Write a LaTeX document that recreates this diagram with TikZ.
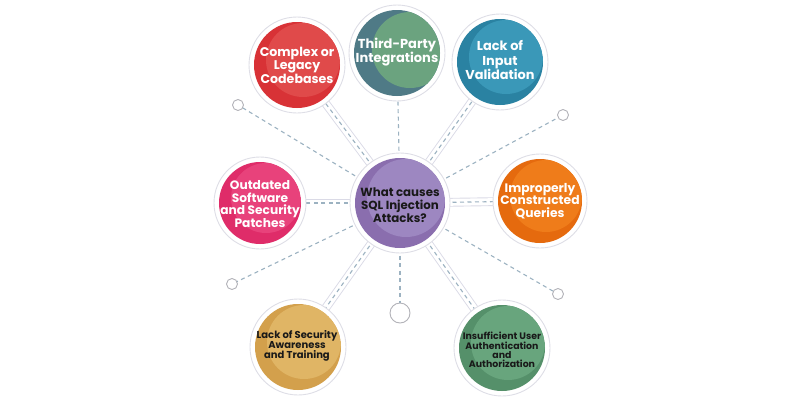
\documentclass[tikz,border=0pt]{standalone}
\usepackage{fontspec}
\setmainfont{Poppins}
\usetikzlibrary{calc}
\definecolor{dashc}{HTML}{9CB2C1}
\definecolor{railc}{HTML}{DADAE6}
\definecolor{ringc}{HTML}{DEDEE6}
\definecolor{cred}{HTML}{D83236}\definecolor{credL}{HTML}{E04A4A}
\definecolor{cthird}{HTML}{4F7A86}\definecolor{cthirdL}{HTML}{6BA37F}
\definecolor{cinput}{HTML}{2A82A2}\definecolor{cinputL}{HTML}{3A98B8}
\definecolor{cout}{HTML}{DF2C69}\definecolor{coutL}{HTML}{E8427B}
\definecolor{cpur}{HTML}{8A6EAE}\definecolor{cpurL}{HTML}{9D87C1}
\definecolor{corg}{HTML}{E56A0E}\definecolor{corgL}{HTML}{EF7C1A}
\definecolor{cgold}{HTML}{D3A04C}\definecolor{cgoldL}{HTML}{E0B565}
\definecolor{cgrn}{HTML}{55906A}\definecolor{cgrnL}{HTML}{68A57D}
\tikzset{
  ring/.style={circle, fill=white, draw=ringc, line width=0.9pt, minimum size=#1, inner sep=0pt},
  dot/.style={circle, fill=white, draw=ringc!80!black, line width=0.9pt, minimum size=#1, inner sep=0pt},
  rail/.style={draw=railc, double=white, double distance=7pt, line width=0.9pt},
  dline/.style={draw=dashc, line width=1.1pt, dash pattern=on 4pt off 3.5pt},
  txt/.style={align=center, font=\bfseries, inner sep=0pt}
}
\newcommand\bubble[7]{% name, base, light, r, hx, hy, hr
  \fill[#2] (#1) circle (#4pt);
  \begin{scope}
    \clip (#1) circle (#4pt);
    \fill[#3] ($(#1)+(#5,#6)$) circle (#7pt);
  \end{scope}
}
\begin{document}
\begin{tikzpicture}[x=1pt,y=-1pt]
\useasboundingbox (0,0) rectangle (800,400);
% coordinates
\coordinate (pc) at (400,203);
\coordinate (p1) at (297,65);
\coordinate (p2) at (397,53);
\coordinate (p3) at (500,62);
\coordinate (p4) at (260,203);
\coordinate (p5) at (540,201);
\coordinate (p6) at (298,347);
\coordinate (p7) at (502,348);
\coordinate (q1) at (238,105);
\coordinate (q2) at (563,115);
\coordinate (q3) at (232,284);
\coordinate (q4) at (558,294);
\coordinate (q5) at (400,313);
% rails
\foreach \p in {p1,p3,p4,p5,p6,p7} {\draw[rail] (pc) -- (\p);}
\foreach \p in {p1,p2,p3,p4,p5,p6,p7} {\draw[dline] (pc) -- (\p);}
\foreach \p in {q1,q2,q3,q4,q5} {\draw[dline] (pc) -- (\p);}
% small dots
\node[dot=11pt] (d1) at (q1) {};
\node[dot=11pt] (d2) at (q2) {};
\node[dot=11pt] (d3) at (q3) {};
\node[dot=11pt] (d4) at (q4) {};
\node[dot=20pt] (d5) at (q5) {};
% rings
\node[ring=100pt] (nc) at (pc) {};
\node[ring=96pt] (n1) at (p1) {};
\node[ring=96pt] (n2) at (p2) {};
\node[ring=96pt] (n3) at (p3) {};
\node[ring=92pt] (n4) at (p4) {};
\node[ring=94pt] (n5) at (p5) {};
\node[ring=96pt] (n6) at (p6) {};
\node[ring=96pt] (n7) at (p7) {};
% fills
\bubble{nc}{cpur}{cpurL}{45}{6}{-5}{39}
\bubble{n1}{cred}{credL}{43}{6}{-5}{37}
\bubble{n2}{cthird}{cthirdL}{43}{13}{-3}{38}
\bubble{n3}{cinput}{cinputL}{43}{6}{-5}{37}
\bubble{n4}{cout}{coutL}{41}{6}{-5}{35}
\bubble{n5}{corg}{corgL}{42}{6}{-5}{36}
\bubble{n6}{cgold}{cgoldL}{43}{6}{-5}{37}
\bubble{n7}{cgrn}{cgrnL}{43}{6}{-5}{37}
% texts
\node[txt, text=black!90, font=\bfseries\fontsize{11.8}{13.3}\selectfont] (tc) at (400,205) {What causes\\SQL Injection\\ Attacks?};
\node[txt, text=white, font=\bfseries\fontsize{12.6}{12}\selectfont] (t1) at (297,65) {Complex or\\Legacy\\Codebases};
\node[txt, text=white, font=\bfseries\fontsize{13}{14}\selectfont] (t2) at (397,52) {Third-Party\\Integrations};
\node[txt, text=white, font=\bfseries\fontsize{12.9}{14.5}\selectfont] (t3) at (500,60) {Lack of\\Input\\Validation};
\node[txt, text=white, font=\bfseries\fontsize{12.2}{12.7}\selectfont] (t4) at (260,204) {Outdated\\Software\\and Security\\Patches};
\node[txt, text=white, font=\bfseries\fontsize{12.3}{12.8}\selectfont] (t5) at (540,201) {Improperly\\Constructed\\Queries};
\node[txt, text=black!90, font=\bfseries\fontsize{10}{10}\selectfont] (t6) at (297,346) {Lack of Security\\Awareness\\and Training};
\node[txt, text=black!90, font=\bfseries\fontsize{9.4}{9.2}\selectfont] (t7) at (502,350) {Insufficient User\\Authentication\\and\\Authorization};
\end{tikzpicture}
\end{document}
